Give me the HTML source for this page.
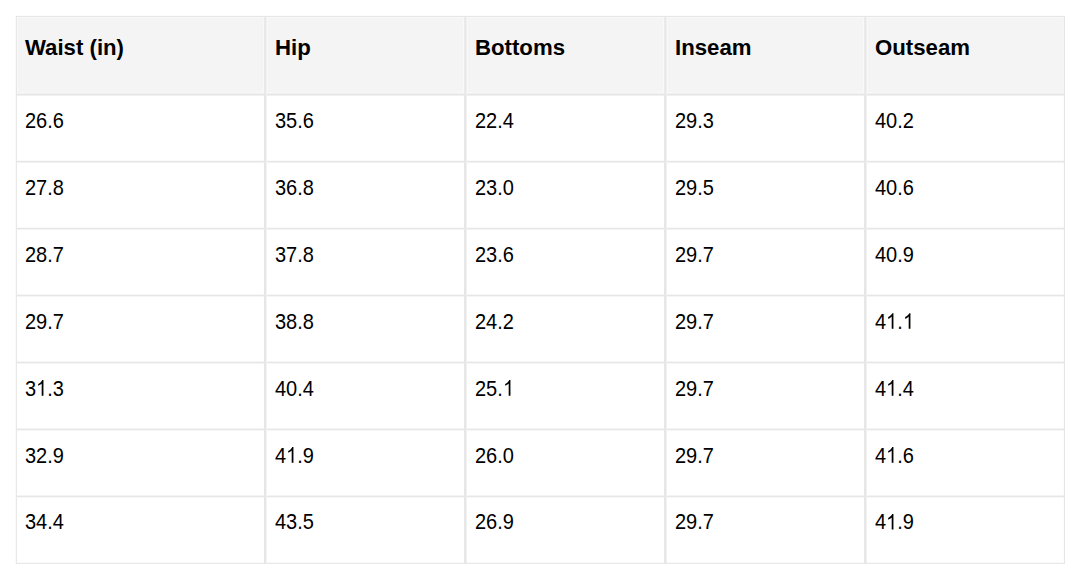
<!DOCTYPE html>
<html><head><meta charset="utf-8"><style>
html,body{margin:0;padding:0;background:#fff;width:1080px;height:579px;overflow:hidden;position:relative}
i{position:absolute;display:block}
div{position:absolute}
.h{font:bold 22.2px "Liberation Sans",sans-serif;line-height:26px;color:#000;white-space:nowrap}
.o{position:relative;color:transparent}
.o svg{position:absolute;left:0.3px;top:0;width:11.123px;height:20px;fill:#000}
.b{font:20px "Liberation Sans",sans-serif;line-height:24px;color:#000;white-space:nowrap;transform-origin:0 19px}
</style></head><body>
<i style="left:17px;top:17px;width:1047px;height:77px;background:#f4f4f4"></i>
<i style="left:17px;top:17px;width:1047px;height:1px;background:#f9f9f9"></i>
<i style="left:17px;top:17px;width:1px;height:77px;background:#f9f9f9"></i>
<i style="left:1063px;top:17px;width:1px;height:77px;background:#f9f9f9"></i>
<i style="left:17px;top:92px;width:1047px;height:1px;background:#f7f7f7"></i>
<i style="left:263px;top:17px;width:1px;height:76px;background:#f9f9f9"></i>
<i style="left:267px;top:17px;width:1px;height:76px;background:#f9f9f9"></i>
<i style="left:463px;top:17px;width:1px;height:76px;background:#f9f9f9"></i>
<i style="left:467px;top:17px;width:1px;height:76px;background:#f9f9f9"></i>
<i style="left:663px;top:17px;width:1px;height:76px;background:#f9f9f9"></i>
<i style="left:667px;top:17px;width:1px;height:76px;background:#f9f9f9"></i>
<i style="left:863px;top:17px;width:1px;height:76px;background:#f9f9f9"></i>
<i style="left:867px;top:17px;width:1px;height:76px;background:#f9f9f9"></i>
<i style="left:16px;top:15px;width:1049px;height:1px;background:rgba(230,230,230,0.1000)"></i>
<i style="left:16px;top:16px;width:1049px;height:1px;background:rgba(230,230,230,1.0000)"></i>
<i style="left:16px;top:562px;width:1049px;height:1px;background:rgba(230,230,230,0.1500)"></i>
<i style="left:16px;top:563px;width:1049px;height:1px;background:rgba(230,230,230,0.9500)"></i>
<i style="left:17px;top:93px;width:247px;height:1px;background:rgba(230,230,230,0.1500)"></i>
<i style="left:267px;top:93px;width:197px;height:1px;background:rgba(230,230,230,0.1500)"></i>
<i style="left:467px;top:93px;width:197px;height:1px;background:rgba(230,230,230,0.1500)"></i>
<i style="left:667px;top:93px;width:197px;height:1px;background:rgba(230,230,230,0.1500)"></i>
<i style="left:867px;top:93px;width:197px;height:1px;background:rgba(230,230,230,0.1500)"></i>
<i style="left:17px;top:94px;width:247px;height:1px;background:rgba(230,230,230,1.0000)"></i>
<i style="left:267px;top:94px;width:197px;height:1px;background:rgba(230,230,230,1.0000)"></i>
<i style="left:467px;top:94px;width:197px;height:1px;background:rgba(230,230,230,1.0000)"></i>
<i style="left:667px;top:94px;width:197px;height:1px;background:rgba(230,230,230,1.0000)"></i>
<i style="left:867px;top:94px;width:197px;height:1px;background:rgba(230,230,230,1.0000)"></i>
<i style="left:17px;top:95px;width:247px;height:1px;background:rgba(230,230,230,0.5500)"></i>
<i style="left:267px;top:95px;width:197px;height:1px;background:rgba(230,230,230,0.5500)"></i>
<i style="left:467px;top:95px;width:197px;height:1px;background:rgba(230,230,230,0.5500)"></i>
<i style="left:667px;top:95px;width:197px;height:1px;background:rgba(230,230,230,0.5500)"></i>
<i style="left:867px;top:95px;width:197px;height:1px;background:rgba(230,230,230,0.5500)"></i>
<i style="left:17px;top:160px;width:247px;height:1px;background:rgba(230,230,230,0.2000)"></i>
<i style="left:267px;top:160px;width:197px;height:1px;background:rgba(230,230,230,0.2000)"></i>
<i style="left:467px;top:160px;width:197px;height:1px;background:rgba(230,230,230,0.2000)"></i>
<i style="left:667px;top:160px;width:197px;height:1px;background:rgba(230,230,230,0.2000)"></i>
<i style="left:867px;top:160px;width:197px;height:1px;background:rgba(230,230,230,0.2000)"></i>
<i style="left:17px;top:161px;width:247px;height:1px;background:rgba(230,230,230,1.0000)"></i>
<i style="left:267px;top:161px;width:197px;height:1px;background:rgba(230,230,230,1.0000)"></i>
<i style="left:467px;top:161px;width:197px;height:1px;background:rgba(230,230,230,1.0000)"></i>
<i style="left:667px;top:161px;width:197px;height:1px;background:rgba(230,230,230,1.0000)"></i>
<i style="left:867px;top:161px;width:197px;height:1px;background:rgba(230,230,230,1.0000)"></i>
<i style="left:17px;top:162px;width:247px;height:1px;background:rgba(230,230,230,0.5000)"></i>
<i style="left:267px;top:162px;width:197px;height:1px;background:rgba(230,230,230,0.5000)"></i>
<i style="left:467px;top:162px;width:197px;height:1px;background:rgba(230,230,230,0.5000)"></i>
<i style="left:667px;top:162px;width:197px;height:1px;background:rgba(230,230,230,0.5000)"></i>
<i style="left:867px;top:162px;width:197px;height:1px;background:rgba(230,230,230,0.5000)"></i>
<i style="left:17px;top:227px;width:247px;height:1px;background:rgba(230,230,230,0.2500)"></i>
<i style="left:267px;top:227px;width:197px;height:1px;background:rgba(230,230,230,0.2500)"></i>
<i style="left:467px;top:227px;width:197px;height:1px;background:rgba(230,230,230,0.2500)"></i>
<i style="left:667px;top:227px;width:197px;height:1px;background:rgba(230,230,230,0.2500)"></i>
<i style="left:867px;top:227px;width:197px;height:1px;background:rgba(230,230,230,0.2500)"></i>
<i style="left:17px;top:228px;width:247px;height:1px;background:rgba(230,230,230,1.0000)"></i>
<i style="left:267px;top:228px;width:197px;height:1px;background:rgba(230,230,230,1.0000)"></i>
<i style="left:467px;top:228px;width:197px;height:1px;background:rgba(230,230,230,1.0000)"></i>
<i style="left:667px;top:228px;width:197px;height:1px;background:rgba(230,230,230,1.0000)"></i>
<i style="left:867px;top:228px;width:197px;height:1px;background:rgba(230,230,230,1.0000)"></i>
<i style="left:17px;top:229px;width:247px;height:1px;background:rgba(230,230,230,0.4500)"></i>
<i style="left:267px;top:229px;width:197px;height:1px;background:rgba(230,230,230,0.4500)"></i>
<i style="left:467px;top:229px;width:197px;height:1px;background:rgba(230,230,230,0.4500)"></i>
<i style="left:667px;top:229px;width:197px;height:1px;background:rgba(230,230,230,0.4500)"></i>
<i style="left:867px;top:229px;width:197px;height:1px;background:rgba(230,230,230,0.4500)"></i>
<i style="left:17px;top:294px;width:247px;height:1px;background:rgba(230,230,230,0.3000)"></i>
<i style="left:267px;top:294px;width:197px;height:1px;background:rgba(230,230,230,0.3000)"></i>
<i style="left:467px;top:294px;width:197px;height:1px;background:rgba(230,230,230,0.3000)"></i>
<i style="left:667px;top:294px;width:197px;height:1px;background:rgba(230,230,230,0.3000)"></i>
<i style="left:867px;top:294px;width:197px;height:1px;background:rgba(230,230,230,0.3000)"></i>
<i style="left:17px;top:295px;width:247px;height:1px;background:rgba(230,230,230,1.0000)"></i>
<i style="left:267px;top:295px;width:197px;height:1px;background:rgba(230,230,230,1.0000)"></i>
<i style="left:467px;top:295px;width:197px;height:1px;background:rgba(230,230,230,1.0000)"></i>
<i style="left:667px;top:295px;width:197px;height:1px;background:rgba(230,230,230,1.0000)"></i>
<i style="left:867px;top:295px;width:197px;height:1px;background:rgba(230,230,230,1.0000)"></i>
<i style="left:17px;top:296px;width:247px;height:1px;background:rgba(230,230,230,0.4000)"></i>
<i style="left:267px;top:296px;width:197px;height:1px;background:rgba(230,230,230,0.4000)"></i>
<i style="left:467px;top:296px;width:197px;height:1px;background:rgba(230,230,230,0.4000)"></i>
<i style="left:667px;top:296px;width:197px;height:1px;background:rgba(230,230,230,0.4000)"></i>
<i style="left:867px;top:296px;width:197px;height:1px;background:rgba(230,230,230,0.4000)"></i>
<i style="left:17px;top:361px;width:247px;height:1px;background:rgba(230,230,230,0.3500)"></i>
<i style="left:267px;top:361px;width:197px;height:1px;background:rgba(230,230,230,0.3500)"></i>
<i style="left:467px;top:361px;width:197px;height:1px;background:rgba(230,230,230,0.3500)"></i>
<i style="left:667px;top:361px;width:197px;height:1px;background:rgba(230,230,230,0.3500)"></i>
<i style="left:867px;top:361px;width:197px;height:1px;background:rgba(230,230,230,0.3500)"></i>
<i style="left:17px;top:362px;width:247px;height:1px;background:rgba(230,230,230,1.0000)"></i>
<i style="left:267px;top:362px;width:197px;height:1px;background:rgba(230,230,230,1.0000)"></i>
<i style="left:467px;top:362px;width:197px;height:1px;background:rgba(230,230,230,1.0000)"></i>
<i style="left:667px;top:362px;width:197px;height:1px;background:rgba(230,230,230,1.0000)"></i>
<i style="left:867px;top:362px;width:197px;height:1px;background:rgba(230,230,230,1.0000)"></i>
<i style="left:17px;top:363px;width:247px;height:1px;background:rgba(230,230,230,0.3500)"></i>
<i style="left:267px;top:363px;width:197px;height:1px;background:rgba(230,230,230,0.3500)"></i>
<i style="left:467px;top:363px;width:197px;height:1px;background:rgba(230,230,230,0.3500)"></i>
<i style="left:667px;top:363px;width:197px;height:1px;background:rgba(230,230,230,0.3500)"></i>
<i style="left:867px;top:363px;width:197px;height:1px;background:rgba(230,230,230,0.3500)"></i>
<i style="left:17px;top:428px;width:247px;height:1px;background:rgba(230,230,230,0.4000)"></i>
<i style="left:267px;top:428px;width:197px;height:1px;background:rgba(230,230,230,0.4000)"></i>
<i style="left:467px;top:428px;width:197px;height:1px;background:rgba(230,230,230,0.4000)"></i>
<i style="left:667px;top:428px;width:197px;height:1px;background:rgba(230,230,230,0.4000)"></i>
<i style="left:867px;top:428px;width:197px;height:1px;background:rgba(230,230,230,0.4000)"></i>
<i style="left:17px;top:429px;width:247px;height:1px;background:rgba(230,230,230,1.0000)"></i>
<i style="left:267px;top:429px;width:197px;height:1px;background:rgba(230,230,230,1.0000)"></i>
<i style="left:467px;top:429px;width:197px;height:1px;background:rgba(230,230,230,1.0000)"></i>
<i style="left:667px;top:429px;width:197px;height:1px;background:rgba(230,230,230,1.0000)"></i>
<i style="left:867px;top:429px;width:197px;height:1px;background:rgba(230,230,230,1.0000)"></i>
<i style="left:17px;top:430px;width:247px;height:1px;background:rgba(230,230,230,0.3000)"></i>
<i style="left:267px;top:430px;width:197px;height:1px;background:rgba(230,230,230,0.3000)"></i>
<i style="left:467px;top:430px;width:197px;height:1px;background:rgba(230,230,230,0.3000)"></i>
<i style="left:667px;top:430px;width:197px;height:1px;background:rgba(230,230,230,0.3000)"></i>
<i style="left:867px;top:430px;width:197px;height:1px;background:rgba(230,230,230,0.3000)"></i>
<i style="left:17px;top:495px;width:247px;height:1px;background:rgba(230,230,230,0.4500)"></i>
<i style="left:267px;top:495px;width:197px;height:1px;background:rgba(230,230,230,0.4500)"></i>
<i style="left:467px;top:495px;width:197px;height:1px;background:rgba(230,230,230,0.4500)"></i>
<i style="left:667px;top:495px;width:197px;height:1px;background:rgba(230,230,230,0.4500)"></i>
<i style="left:867px;top:495px;width:197px;height:1px;background:rgba(230,230,230,0.4500)"></i>
<i style="left:17px;top:496px;width:247px;height:1px;background:rgba(230,230,230,1.0000)"></i>
<i style="left:267px;top:496px;width:197px;height:1px;background:rgba(230,230,230,1.0000)"></i>
<i style="left:467px;top:496px;width:197px;height:1px;background:rgba(230,230,230,1.0000)"></i>
<i style="left:667px;top:496px;width:197px;height:1px;background:rgba(230,230,230,1.0000)"></i>
<i style="left:867px;top:496px;width:197px;height:1px;background:rgba(230,230,230,1.0000)"></i>
<i style="left:17px;top:497px;width:247px;height:1px;background:rgba(230,230,230,0.2500)"></i>
<i style="left:267px;top:497px;width:197px;height:1px;background:rgba(230,230,230,0.2500)"></i>
<i style="left:467px;top:497px;width:197px;height:1px;background:rgba(230,230,230,0.2500)"></i>
<i style="left:667px;top:497px;width:197px;height:1px;background:rgba(230,230,230,0.2500)"></i>
<i style="left:867px;top:497px;width:197px;height:1px;background:rgba(230,230,230,0.2500)"></i>
<i style="left:263px;top:17px;width:1px;height:77px;background:rgba(230,230,230,0.0375)"></i>
<i style="left:263px;top:94px;width:1px;height:469px;background:rgba(230,230,230,0.0500)"></i>
<i style="left:264px;top:17px;width:1px;height:77px;background:rgba(230,230,230,0.7500)"></i>
<i style="left:264px;top:94px;width:1px;height:469px;background:rgba(230,230,230,1.0000)"></i>
<i style="left:265px;top:17px;width:1px;height:77px;background:rgba(230,230,230,0.7500)"></i>
<i style="left:265px;top:94px;width:1px;height:469px;background:rgba(230,230,230,1.0000)"></i>
<i style="left:266px;top:17px;width:1px;height:77px;background:rgba(230,230,230,0.3375)"></i>
<i style="left:266px;top:94px;width:1px;height:469px;background:rgba(230,230,230,0.4500)"></i>
<i style="left:464px;top:17px;width:1px;height:77px;background:rgba(230,230,230,0.7125)"></i>
<i style="left:464px;top:94px;width:1px;height:469px;background:rgba(230,230,230,0.9500)"></i>
<i style="left:465px;top:17px;width:1px;height:77px;background:rgba(230,230,230,0.7500)"></i>
<i style="left:465px;top:94px;width:1px;height:469px;background:rgba(230,230,230,1.0000)"></i>
<i style="left:466px;top:17px;width:1px;height:77px;background:rgba(230,230,230,0.4125)"></i>
<i style="left:466px;top:94px;width:1px;height:469px;background:rgba(230,230,230,0.5500)"></i>
<i style="left:664px;top:17px;width:1px;height:77px;background:rgba(230,230,230,0.7125)"></i>
<i style="left:664px;top:94px;width:1px;height:469px;background:rgba(230,230,230,0.9500)"></i>
<i style="left:665px;top:17px;width:1px;height:77px;background:rgba(230,230,230,0.7500)"></i>
<i style="left:665px;top:94px;width:1px;height:469px;background:rgba(230,230,230,1.0000)"></i>
<i style="left:666px;top:17px;width:1px;height:77px;background:rgba(230,230,230,0.4125)"></i>
<i style="left:666px;top:94px;width:1px;height:469px;background:rgba(230,230,230,0.5500)"></i>
<i style="left:864px;top:17px;width:1px;height:77px;background:rgba(230,230,230,0.7125)"></i>
<i style="left:864px;top:94px;width:1px;height:469px;background:rgba(230,230,230,0.9500)"></i>
<i style="left:865px;top:17px;width:1px;height:77px;background:rgba(230,230,230,0.7500)"></i>
<i style="left:865px;top:94px;width:1px;height:469px;background:rgba(230,230,230,1.0000)"></i>
<i style="left:866px;top:17px;width:1px;height:77px;background:rgba(230,230,230,0.4125)"></i>
<i style="left:866px;top:94px;width:1px;height:469px;background:rgba(230,230,230,0.5500)"></i>
<i style="left:15px;top:16px;width:1px;height:78px;background:rgba(230,230,230,0.2000)"></i>
<i style="left:15px;top:94px;width:1px;height:470px;background:rgba(230,230,230,0.2000)"></i>
<i style="left:16px;top:16px;width:1px;height:78px;background:rgba(230,230,230,0.9000)"></i>
<i style="left:16px;top:94px;width:1px;height:470px;background:rgba(230,230,230,0.9000)"></i>
<i style="left:1063px;top:16px;width:1px;height:78px;background:rgba(230,230,230,0.1000)"></i>
<i style="left:1063px;top:94px;width:1px;height:470px;background:rgba(230,230,230,0.1000)"></i>
<i style="left:1064px;top:16px;width:1px;height:78px;background:rgba(230,230,230,1.0000)"></i>
<i style="left:1064px;top:94px;width:1px;height:470px;background:rgba(230,230,230,1.0000)"></i>
<div class="h" style="left:25px;top:35px">Waist (in)</div>
<div class="h" style="left:275px;top:35px">Hip</div>
<div class="h" style="left:475px;top:35px">Bottoms</div>
<div class="h" style="left:675px;top:35px">Inseam</div>
<div class="h" style="left:875px;top:35px">Outseam</div>
<div class="b" style="left:25px;top:0;transform:translateY(108.80px) scaleY(1.086)">26.6</div>
<div class="b" style="left:275px;top:0;transform:translateY(108.80px) scaleY(1.086)">35.6</div>
<div class="b" style="left:475px;top:0;transform:translateY(108.80px) scaleY(1.086)">22.4</div>
<div class="b" style="left:675px;top:0;transform:translateY(108.80px) scaleY(1.086)">29.3</div>
<div class="b" style="left:875px;top:0;transform:translateY(108.80px) scaleY(1.086)">40.2</div>
<div class="b" style="left:25px;top:0;transform:translateY(175.75px) scaleY(1.086)">27.8</div>
<div class="b" style="left:275px;top:0;transform:translateY(175.75px) scaleY(1.086)">36.8</div>
<div class="b" style="left:475px;top:0;transform:translateY(175.75px) scaleY(1.086)">23.0</div>
<div class="b" style="left:675px;top:0;transform:translateY(175.75px) scaleY(1.086)">29.5</div>
<div class="b" style="left:875px;top:0;transform:translateY(175.75px) scaleY(1.086)">40.6</div>
<div class="b" style="left:25px;top:0;transform:translateY(242.70px) scaleY(1.086)">28.7</div>
<div class="b" style="left:275px;top:0;transform:translateY(242.70px) scaleY(1.086)">37.8</div>
<div class="b" style="left:475px;top:0;transform:translateY(242.70px) scaleY(1.086)">23.6</div>
<div class="b" style="left:675px;top:0;transform:translateY(242.70px) scaleY(1.086)">29.7</div>
<div class="b" style="left:875px;top:0;transform:translateY(242.70px) scaleY(1.086)">40.9</div>
<div class="b" style="left:25px;top:0;transform:translateY(309.65px) scaleY(1.086)">29.7</div>
<div class="b" style="left:275px;top:0;transform:translateY(309.65px) scaleY(1.086)">38.8</div>
<div class="b" style="left:475px;top:0;transform:translateY(309.65px) scaleY(1.086)">24.2</div>
<div class="b" style="left:675px;top:0;transform:translateY(309.65px) scaleY(1.086)">29.7</div>
<div class="b" style="left:875px;top:0;transform:translateY(309.65px) scaleY(1.086)">4<span class="o">1<svg viewBox="0 0 1139 2048"><path d="M763 1854H583V707Q518 769 412 831Q306 893 222 924V750Q373 679 486 578Q599 477 647 382H763Z"/></svg></span>.<span class="o">1<svg viewBox="0 0 1139 2048"><path d="M763 1854H583V707Q518 769 412 831Q306 893 222 924V750Q373 679 486 578Q599 477 647 382H763Z"/></svg></span></div>
<div class="b" style="left:25px;top:0;transform:translateY(376.60px) scaleY(1.086)">3<span class="o">1<svg viewBox="0 0 1139 2048"><path d="M763 1854H583V707Q518 769 412 831Q306 893 222 924V750Q373 679 486 578Q599 477 647 382H763Z"/></svg></span>.3</div>
<div class="b" style="left:275px;top:0;transform:translateY(376.60px) scaleY(1.086)">40.4</div>
<div class="b" style="left:475px;top:0;transform:translateY(376.60px) scaleY(1.086)">25.<span class="o">1<svg viewBox="0 0 1139 2048"><path d="M763 1854H583V707Q518 769 412 831Q306 893 222 924V750Q373 679 486 578Q599 477 647 382H763Z"/></svg></span></div>
<div class="b" style="left:675px;top:0;transform:translateY(376.60px) scaleY(1.086)">29.7</div>
<div class="b" style="left:875px;top:0;transform:translateY(376.60px) scaleY(1.086)">4<span class="o">1<svg viewBox="0 0 1139 2048"><path d="M763 1854H583V707Q518 769 412 831Q306 893 222 924V750Q373 679 486 578Q599 477 647 382H763Z"/></svg></span>.4</div>
<div class="b" style="left:25px;top:0;transform:translateY(443.55px) scaleY(1.086)">32.9</div>
<div class="b" style="left:275px;top:0;transform:translateY(443.55px) scaleY(1.086)">4<span class="o">1<svg viewBox="0 0 1139 2048"><path d="M763 1854H583V707Q518 769 412 831Q306 893 222 924V750Q373 679 486 578Q599 477 647 382H763Z"/></svg></span>.9</div>
<div class="b" style="left:475px;top:0;transform:translateY(443.55px) scaleY(1.086)">26.0</div>
<div class="b" style="left:675px;top:0;transform:translateY(443.55px) scaleY(1.086)">29.7</div>
<div class="b" style="left:875px;top:0;transform:translateY(443.55px) scaleY(1.086)">4<span class="o">1<svg viewBox="0 0 1139 2048"><path d="M763 1854H583V707Q518 769 412 831Q306 893 222 924V750Q373 679 486 578Q599 477 647 382H763Z"/></svg></span>.6</div>
<div class="b" style="left:25px;top:0;transform:translateY(510.50px) scaleY(1.086)">34.4</div>
<div class="b" style="left:275px;top:0;transform:translateY(510.50px) scaleY(1.086)">43.5</div>
<div class="b" style="left:475px;top:0;transform:translateY(510.50px) scaleY(1.086)">26.9</div>
<div class="b" style="left:675px;top:0;transform:translateY(510.50px) scaleY(1.086)">29.7</div>
<div class="b" style="left:875px;top:0;transform:translateY(510.50px) scaleY(1.086)">4<span class="o">1<svg viewBox="0 0 1139 2048"><path d="M763 1854H583V707Q518 769 412 831Q306 893 222 924V750Q373 679 486 578Q599 477 647 382H763Z"/></svg></span>.9</div>
</body></html>
